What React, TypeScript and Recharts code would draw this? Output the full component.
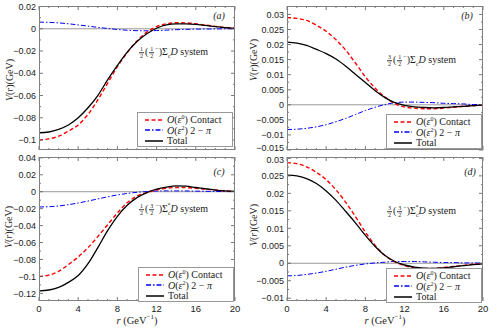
import React from "react";
import { LineChart, Line, XAxis, YAxis, ReferenceLine } from "recharts";

const rValues = [0, 1, 2, 3, 4, 5, 6, 7, 8, 9, 10, 11, 12, 13, 14, 15, 16, 17, 18, 19, 20];
const xLabelled = [0, 4, 8, 12, 16, 20];

// panel (a)  1/2(1/2-) Sigma_c D
const contactA = [-0.1, -0.099, -0.0966, -0.092, -0.0865, -0.077, -0.064, -0.049, -0.034, -0.0215, -0.011, -0.003, 0.002, 0.0045, 0.0054, 0.0053, 0.0045, 0.0033, 0.0022, 0.0012, 0.0005];
const twoPiA = [0.006, 0.0058, 0.0053, 0.0045, 0.0035, 0.0024, 0.0013, 0.0003, -0.0006, -0.0013, -0.0017, -0.0018, -0.0016, -0.0012, -0.0008, -0.0005, -0.0003, -0.0002, -0.0001, 0, 0];
const totalA = [-0.0935, -0.0928, -0.0905, -0.0865, -0.08, -0.071, -0.06, -0.046, -0.033, -0.021, -0.0115, -0.0045, 0.0005, 0.0035, 0.0045, 0.0045, 0.004, 0.003, 0.002, 0.001, 0.0004];
const yTicksA = [-0.1, -0.09, -0.08, -0.07, -0.06, -0.05, -0.04, -0.03, -0.02, -0.01, 0, 0.01, 0.02];
const yLabelsA = [-0.1, -0.08, -0.06, -0.04, -0.02, 0, 0.02];

// panel (b)  3/2(1/2-) Sigma_c D
const contactB = [0.029, 0.0287, 0.028, 0.0264, 0.0244, 0.0216, 0.0181, 0.0138, 0.0093, 0.0055, 0.0026, 0.0004, -0.0007, -0.0011, -0.0013, -0.0013, -0.0011, -0.0008, -0.0005, -0.0003, -0.0001];
const twoPiB = [-0.0082, -0.0081, -0.0078, -0.0073, -0.0066, -0.0056, -0.0045, -0.0032, -0.0019, -0.0008, 0.0001, 0.0007, 0.0009, 0.0009, 0.0008, 0.0007, 0.0005, 0.0004, 0.0003, 0.0001, 0.0001];
const totalB = [0.0208, 0.0205, 0.0197, 0.0184, 0.017, 0.0152, 0.0128, 0.0101, 0.0074, 0.0047, 0.0024, 0.0007, -0.0002, -0.0007, -0.0009, -0.001, -0.0009, -0.0007, -0.0005, -0.0003, -0.0001];
const yTicksB = [-0.015, -0.0125, -0.01, -0.0075, -0.005, -0.0025, 0, 0.0025, 0.005, 0.0075, 0.01, 0.0125, 0.015, 0.0175, 0.02, 0.0225, 0.025, 0.0275, 0.03];
const yLabelsB = [-0.015, -0.01, -0.005, 0, 0.005, 0.01, 0.015, 0.02, 0.025, 0.03];

// panel (c)  1/2(3/2-) Sigma_c* D
const contactC = [-0.1, -0.0985, -0.094, -0.086, -0.077, -0.066, -0.053, -0.039, -0.025, -0.013, -0.005, -0.001, 0.002, 0.004, 0.005, 0.0048, 0.004, 0.003, 0.002, 0.001, 0.0005];
const twoPiC = [-0.018, -0.0177, -0.0168, -0.0153, -0.0133, -0.011, -0.0085, -0.006, -0.0038, -0.002, -0.0007, 0.0002, 0.0008, 0.001, 0.001, 0.0009, 0.0007, 0.0005, 0.0003, 0.0002, 0.0001];
const totalC = [-0.117, -0.116, -0.113, -0.107, -0.099, -0.085, -0.066, -0.046, -0.029, -0.016, -0.007, -0.001, 0.003, 0.0055, 0.007, 0.0065, 0.005, 0.0035, 0.002, 0.001, 0.0005];
const yTicksC = [-0.12, -0.11, -0.1, -0.09, -0.08, -0.07, -0.06, -0.05, -0.04, -0.03, -0.02, -0.01, 0, 0.01, 0.02, 0.03, 0.04];
const yLabelsC = [-0.12, -0.1, -0.08, -0.06, -0.04, -0.02, 0, 0.02, 0.04];

// panel (d)  3/2(3/2-) Sigma_c* D
const contactD = [0.0288, 0.0285, 0.0276, 0.026, 0.0239, 0.021, 0.0174, 0.0133, 0.0089, 0.0051, 0.0022, 0.0004, -0.0007, -0.0013, -0.0015, -0.0015, -0.0012, -0.0009, -0.0006, -0.0003, -0.0002];
const twoPiD = [-0.0036, -0.0035, -0.0032, -0.0028, -0.0023, -0.0017, -0.0011, -0.0006, -0.0002, 0.0001, 0.0003, 0.0005, 0.0005, 0.0005, 0.0004, 0.0003, 0.0002, 0.0002, 0.0001, 0.0001, 0];
const totalD = [0.0252, 0.025, 0.0242, 0.0228, 0.0207, 0.018, 0.0148, 0.0115, 0.008, 0.0048, 0.0022, 0.0005, -0.0005, -0.0011, -0.0014, -0.0015, -0.0013, -0.001, -0.0007, -0.0004, -0.0002];
const yTicksD = [-0.01, -0.0075, -0.005, -0.0025, 0, 0.0025, 0.005, 0.0075, 0.01, 0.0125, 0.015, 0.0175, 0.02, 0.0225, 0.025, 0.0275, 0.03];
const yLabelsD = [-0.01, -0.005, 0, 0.005, 0.01, 0.015, 0.02, 0.025, 0.03];

const FRAME = "#808080";
const TICK = "#555";
const SANS = "'Liberation Sans', Arial, sans-serif";
const SERIF = "'Liberation Serif', 'DejaVu Serif', serif";

const rows = (c: number[], t: number[], s: number[]) =>
  rValues.map((r, i) => ({ r, contact: c[i], twoPi: t[i], total: s[i] }));

const near = (list: number[], v: number) => list.some((u) => Math.abs(u - v) < 1e-9);
const fmt = (v: number) => String(+v.toFixed(4)).replace("-", "\u2212");

function Frac({ n, d }: { n: string; d: string }) {
  return (
    <span style={{ display: "inline-flex", flexDirection: "column", alignItems: "center", fontSize: 6, lineHeight: "6px", verticalAlign: "middle", margin: "0 1px" }}>
      <span>{n}</span>
      <span style={{ borderTop: "0.6px solid #333", padding: "0 1px" }}>{d}</span>
    </span>
  );
}

function Label({ x, y, children, rotate, size = 10, anchorLeft }: any) {
  return (
    <div
      style={{
        position: "absolute",
        left: x,
        top: y,
        transform: `${anchorLeft ? "translate(0,-50%)" : "translate(-50%,-50%)"}${rotate ? " rotate(-90deg)" : ""}`,
        whiteSpace: "nowrap",
        fontFamily: SERIF,
        fontSize: size,
        color: "#222",
        lineHeight: 1,
      }}
    >
      {children}
    </div>
  );
}

function LegendBox({ left, top }: { left: number; top: number }) {
  const item = (stroke: string, dash: string | undefined, text: React.ReactNode) => (
    <div style={{ display: "flex", alignItems: "center", height: 10.5 }}>
      <svg width={20} height={6} style={{ marginLeft: 6, marginRight: 3 }}>
        <line x1={1} x2={19} y1={3} y2={3} stroke={stroke} strokeWidth={1.5} strokeDasharray={dash} />
      </svg>
      <span>{text}</span>
    </div>
  );
  return (
    <div
      style={{
        position: "absolute",
        left,
        top,
        width: 96,
        height: 35,
        boxSizing: "border-box",
        border: "1px solid #999",
        background: "#fff",
        fontFamily: SERIF,
        fontSize: 10,
        color: "#222",
        paddingTop: 1.5,
      }}
    >
      {item("#ff0000", "4 2.5", <><i>O</i>(<i>ε</i><sup style={{ fontSize: 6 }}>0</sup>) Contact</>)}
      {item("#0000ff", "5 2 1.5 2", <><i>O</i>(<i>ε</i><sup style={{ fontSize: 6 }}>2</sup>) 2 − <i>π</i></>)}
      {item("#000", undefined, <>Total</>)}
    </div>
  );
}

type PanelProps = {
  left: number;
  top: number;
  w: number;
  h: number;
  data: any[];
  domain: [number, number];
  yTicks: number[];
  yLabels: number[];
  showX: boolean;
  nudge?: { value: number; dy: number };
};

function Panel({ left, top, w, h, data, domain, yTicks, yLabels, showX, nudge }: PanelProps) {
  const ml = 40;
  const mt = 4;
  const mr = 6;
  const mb = 20;
  const xTick = (p: any) => {
    const v = p.payload.value;
    const major = near(xLabelled, v);
    const len = major ? 4 : 2;
    return (
      <g>
        <line x1={p.x} x2={p.x} y1={p.y} y2={p.y - len} stroke={TICK} strokeWidth={0.8} />
        <line x1={p.x} x2={p.x} y1={p.y - h} y2={p.y - h + len} stroke={TICK} strokeWidth={0.8} />
        {showX && major && (
          <text x={p.x} y={p.y + 11} textAnchor="middle" fontSize={9.5} fontFamily={SANS} fill="#222">
            {v}
          </text>
        )}
      </g>
    );
  };
  const yTick = (p: any) => {
    const v = p.payload.value;
    const major = near(yLabels, v);
    const len = major ? 4 : 2;
    const shift = nudge && Math.abs(nudge.value - v) < 1e-9 ? nudge.dy : 0;
    return (
      <g>
        <line x1={p.x} x2={p.x + len} y1={p.y} y2={p.y} stroke={TICK} strokeWidth={0.8} />
        <line x1={p.x + w} x2={p.x + w - len} y1={p.y} y2={p.y} stroke={TICK} strokeWidth={0.8} />
        {major && (
          <text x={p.x - 3} y={p.y + 3.2 + shift} textAnchor="end" fontSize={9} fontFamily={SANS} fill="#222">
            {fmt(v)}
          </text>
        )}
      </g>
    );
  };
  return (
    <>
      <div style={{ position: "absolute", left: left - ml, top: top - mt }}>
        <LineChart width={w + ml + mr} height={h + mt + mb} data={data} margin={{ top: mt, right: mr, bottom: 0, left: 0 }}>
          <XAxis dataKey="r" type="number" domain={[0, 20]} ticks={rValues} interval={0} height={mb} axisLine={false} tickLine={false} tickSize={0} tickMargin={0} tick={xTick} />
          <YAxis type="number" domain={domain} ticks={yTicks} interval={0} width={ml} axisLine={false} tickLine={false} tickSize={0} tickMargin={0} tick={yTick} allowDataOverflow />
          <ReferenceLine y={0} stroke="#999" strokeWidth={1} />
          <Line dataKey="twoPi" type="monotone" stroke="#0000ff" strokeWidth={1} strokeDasharray="5 2 1.5 2" dot={false} isAnimationActive={false} />
          <Line dataKey="contact" type="monotone" stroke="#ff0000" strokeWidth={1.4} strokeDasharray="4 2.5" dot={false} isAnimationActive={false} />
          <Line dataKey="total" type="monotone" stroke="#000" strokeWidth={1.3} dot={false} isAnimationActive={false} />
        </LineChart>
      </div>
      <div style={{ position: "absolute", left, top, width: w, height: h, boxSizing: "border-box", border: `1px solid ${FRAME}`, pointerEvents: "none", marginLeft: -0.5, marginTop: -0.5 }} />
    </>
  );
}

const vLabel = (
  <>
    <i>V</i>(<i>r</i>)(GeV)
  </>
);
const rLabel = (
  <>
    <i>r</i> (GeV<sup style={{ fontSize: 7 }}>−1</sup>)
  </>
);

export default function App() {
  return (
    <div style={{ position: "relative", width: 498, height: 336, background: "#fff", overflow: "hidden" }}>
      <style>{"body{margin:0}"}</style>
      <Panel left={39} top={6} w={196} h={144} data={rows(contactA, twoPiA, totalA)} domain={[-0.109, 0.0205]} yTicks={yTicksA} yLabels={yLabelsA} showX={false} />
      <Panel left={287} top={6} w={196} h={144} data={rows(contactB, twoPiB, totalB)} domain={[-0.015, 0.0328]} yTicks={yTicksB} yLabels={yLabelsB} showX={false} nudge={{ value: -0.015, dy: -2 }} />
      <Panel left={39} top={157} w={196} h={144} data={rows(contactC, twoPiC, totalC)} domain={[-0.129, 0.041]} yTicks={yTicksC} yLabels={yLabelsC} showX />
      <Panel left={287} top={157} w={196} h={144} data={rows(contactD, twoPiD, totalD)} domain={[-0.0108, 0.0304]} yTicks={yTicksD} yLabels={yLabelsD} showX nudge={{ value: 0.03, dy: 1.5 }} />

      <Label x={10} y={80} rotate>{vLabel}</Label>
      <Label x={254} y={60} rotate>{vLabel}</Label>
      <Label x={9} y={227} rotate>{vLabel}</Label>
      <Label x={254} y={225} rotate>{vLabel}</Label>

      <Label x={137} y={320} size={10.5}>{rLabel}</Label>
      <Label x={385} y={320} size={10.5}>{rLabel}</Label>

      <Label x={219} y={16}><i>(a)</i></Label>
      <Label x={467} y={16}><i>(b)</i></Label>
      <Label x={219} y={172}><i>(c)</i></Label>
      <Label x={470} y={172}><i>(d)</i></Label>

      <Label x={138} y={52} anchorLeft>
        <Frac n="1" d="2" />(<Frac n="1" d="2" /><sup style={{ fontSize: 6 }}>−</sup>)Σ<sub style={{ fontSize: 6 }}>c</sub><i>D</i> system
      </Label>
      <Label x={386} y={60} anchorLeft>
        <Frac n="3" d="2" />(<Frac n="1" d="2" /><sup style={{ fontSize: 6 }}>−</sup>)Σ<sub style={{ fontSize: 6 }}>c</sub><i>D</i> system
      </Label>
      <Label x={138} y={209} anchorLeft>
        <Frac n="1" d="2" />(<Frac n="3" d="2" /><sup style={{ fontSize: 6 }}>−</sup>)Σ<sub style={{ fontSize: 6 }}>c</sub><sup style={{ fontSize: 6, marginLeft: -3 }}>*</sup><i>D</i> system
      </Label>
      <Label x={386} y={211} anchorLeft>
        <Frac n="3" d="2" />(<Frac n="3" d="2" /><sup style={{ fontSize: 6 }}>−</sup>)Σ<sub style={{ fontSize: 6 }}>c</sub><sup style={{ fontSize: 6, marginLeft: -3 }}>*</sup><i>D</i> system
      </Label>

      <LegendBox left={137} top={112} />
      <LegendBox left={386} top={114} />
      <LegendBox left={138} top={267} />
      <LegendBox left={386} top={268} />
    </div>
  );
}
